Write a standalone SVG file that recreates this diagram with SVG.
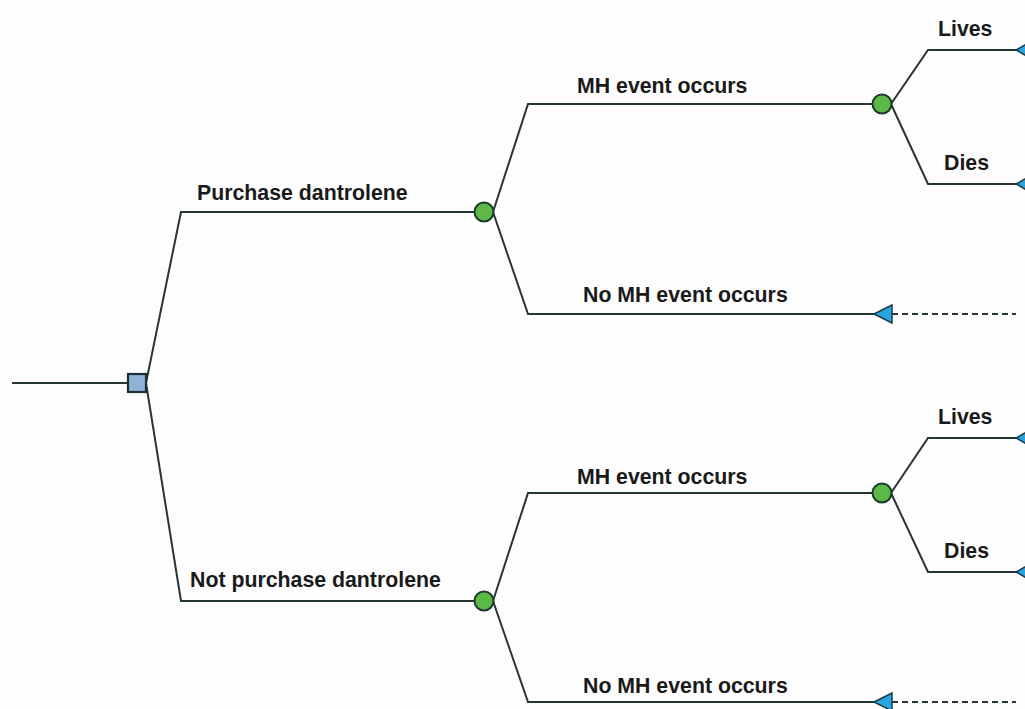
<svg xmlns="http://www.w3.org/2000/svg" width="1025" height="709" viewBox="0 0 1025 709">
<style>
.ln{stroke:#263535;stroke-width:2;fill:none}
.dash{stroke:#263535;stroke-width:1.8;fill:none;stroke-dasharray:6 4}
.chance{fill:#5cb946;stroke:#1f3a2a;stroke-width:2}
.dec{fill:#8fb2d8;stroke:#1e2e36;stroke-width:2.2}
.term{fill:#2aa6de;stroke:#1b3a4a;stroke-width:1.5}
.lbl{font-family:"Liberation Sans",Arial,sans-serif;font-weight:bold;font-size:21.3px;fill:#1a1a1a}
</style>
<rect width="1025" height="709" fill="#fdfdfd"/>
<g id="connectors">
<path class="ln" d="M12,383 H128"/>
<path class="ln" d="M146,383 L181,212 H474"/>
<path class="ln" d="M146,383 L181,601 H474"/>
<path class="ln" d="M493,212 L528,104 H872"/>
<path class="ln" d="M493,212 L528,314 H874"/>
<path class="ln" d="M493,601 L528,493 H872"/>
<path class="ln" d="M493,601 L528,702 H874"/>
<path class="ln" d="M891,104 L928,50 H1016"/>
<path class="ln" d="M891,104 L928,184 H1016"/>
<path class="ln" d="M891,493 L928,438 H1016"/>
<path class="ln" d="M891,493 L928,572 H1016"/>
<path class="dash" d="M892,314 H1016"/>
<path class="dash" d="M892,702 H1016"/>
</g>
<g id="decision"><rect class="dec" x="128" y="374" width="18" height="18"/></g>
<g id="chance1"><circle class="chance" cx="484" cy="212" r="9.5"/></g>
<g id="chance2"><circle class="chance" cx="484" cy="601" r="9.5"/></g>
<g id="chance3"><circle class="chance" cx="882" cy="104" r="9.5"/></g>
<g id="chance4"><circle class="chance" cx="882" cy="493" r="9.5"/></g>
<g id="term1"><polygon class="term" points="1016,50 1030,42 1030,58"/></g>
<g id="term2"><polygon class="term" points="1016,184 1030,176 1030,192"/></g>
<g id="term3"><polygon class="term" points="874,314 892,305 892,323"/></g>
<g id="term4"><polygon class="term" points="1016,438 1030,430 1030,446"/></g>
<g id="term5"><polygon class="term" points="1016,572 1030,564 1030,580"/></g>
<g id="term6"><polygon class="term" points="874,702 892,693 892,711"/></g>
<g id="labels">
<text class="lbl" x="197" y="200">Purchase dantrolene</text>
<text class="lbl" x="190" y="587">Not purchase dantrolene</text>
<text class="lbl" x="577" y="93">MH event occurs</text>
<text class="lbl" x="577" y="484">MH event occurs</text>
<text class="lbl" x="583" y="302">No MH event occurs</text>
<text class="lbl" x="583" y="693">No MH event occurs</text>
<text class="lbl" x="938" y="36">Lives</text>
<text class="lbl" x="944" y="170">Dies</text>
<text class="lbl" x="938" y="424">Lives</text>
<text class="lbl" x="944" y="558">Dies</text>
</g>
</svg>
